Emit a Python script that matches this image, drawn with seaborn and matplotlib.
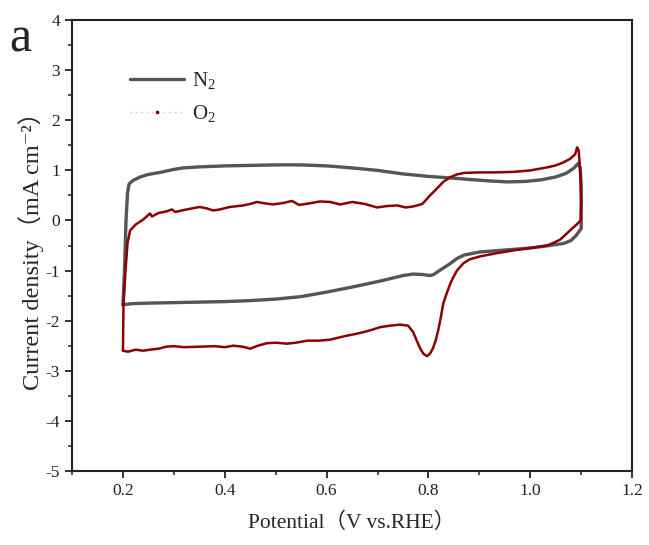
import pandas as pd
import matplotlib
matplotlib.use("Agg")
import matplotlib.pyplot as plt
from matplotlib.lines import Line2D
from matplotlib.ticker import MultipleLocator
import seaborn as sns

# -----------------------------
# CV data
# -----------------------------
n2_potential = [0.200, 0.203, 0.206, 0.209, 0.212, 0.220, 0.234, 0.250, 0.273, 0.300,
                0.318, 0.350, 0.400, 0.450, 0.500, 0.550, 0.600, 0.650, 0.700, 0.750,
                0.800, 0.843, 0.880, 0.920, 0.955, 0.990, 1.020, 1.050, 1.070, 1.085,
                1.094, 1.098, 1.100, 1.100, 1.100, 1.090, 1.080, 1.065, 1.030, 1.000,
                0.950, 0.900, 0.870, 0.856, 0.840, 0.823, 0.810, 0.803, 0.790, 0.770,
                0.750, 0.705, 0.650, 0.600, 0.550, 0.500, 0.450, 0.400, 0.350, 0.300,
                0.250, 0.220, 0.200]
n2_current = [-1.68, -1.00, 0.00, 0.55, 0.73, 0.80, 0.87, 0.92, 0.96, 1.02,
              1.05, 1.07, 1.09, 1.10, 1.11, 1.11, 1.09, 1.05, 1.00, 0.93,
              0.88, 0.85, 0.82, 0.79, 0.77, 0.78, 0.81, 0.87, 0.94, 1.04,
              1.14, 1.05, 0.70, 0.20, -0.16, -0.30, -0.40, -0.46, -0.51, -0.55,
              -0.59, -0.63, -0.69, -0.76, -0.88, -0.99, -1.08, -1.10, -1.08, -1.07,
              -1.10, -1.21, -1.33, -1.43, -1.52, -1.57, -1.60, -1.62, -1.63, -1.64,
              -1.65, -1.66, -1.68]

o2_potential = [0.200, 0.201, 0.205, 0.209, 0.214, 0.225, 0.240, 0.253, 0.257, 0.270,
                0.285, 0.296, 0.303, 0.320, 0.340, 0.351, 0.365, 0.377, 0.390, 0.410,
                0.436, 0.450, 0.463, 0.480, 0.495, 0.515, 0.532, 0.546, 0.565, 0.587,
                0.607, 0.627, 0.650, 0.675, 0.699, 0.720, 0.739, 0.755, 0.770, 0.788,
                0.803, 0.815, 0.829, 0.842, 0.856, 0.870, 0.900, 0.930, 0.966, 1.000,
                1.033, 1.050, 1.065, 1.078, 1.088, 1.092, 1.095, 1.098, 1.100, 1.099,
                1.092, 1.078, 1.059, 1.045, 1.033, 1.000, 0.966, 0.930, 0.900, 0.880,
                0.868, 0.856, 0.848, 0.843, 0.836, 0.829, 0.824, 0.819, 0.814, 0.809,
                0.803, 0.797, 0.790, 0.784, 0.777, 0.770, 0.760, 0.744, 0.725, 0.705,
                0.690, 0.672, 0.655, 0.640, 0.627, 0.607, 0.585, 0.562, 0.540, 0.522,
                0.500, 0.483, 0.465, 0.450, 0.435, 0.417, 0.400, 0.380, 0.350, 0.320,
                0.300, 0.285, 0.270, 0.253, 0.240, 0.225, 0.210, 0.200]
o2_current = [-2.60, -1.70, -1.00, -0.45, -0.20, -0.08, 0.02, 0.14, 0.08, 0.15,
              0.18, 0.22, 0.17, 0.21, 0.25, 0.27, 0.24, 0.20, 0.22, 0.27,
              0.30, 0.33, 0.37, 0.34, 0.32, 0.35, 0.39, 0.31, 0.34, 0.38,
              0.37, 0.32, 0.37, 0.33, 0.26, 0.29, 0.30, 0.26, 0.28, 0.33,
              0.50, 0.62, 0.77, 0.86, 0.92, 0.95, 0.96, 0.96, 0.97, 1.00,
              1.06, 1.10, 1.16, 1.23, 1.32, 1.46, 1.40, 1.00, 0.40, 0.00,
              -0.07, -0.20, -0.38, -0.45, -0.50, -0.55, -0.60, -0.66, -0.72, -0.78,
              -0.86, -1.00, -1.15, -1.26, -1.45, -1.66, -1.95, -2.20, -2.40, -2.55,
              -2.66, -2.71, -2.66, -2.56, -2.40, -2.23, -2.10, -2.08, -2.10, -2.13,
              -2.18, -2.23, -2.27, -2.30, -2.33, -2.38, -2.40, -2.40, -2.44, -2.46,
              -2.44, -2.45, -2.50, -2.56, -2.52, -2.50, -2.53, -2.51, -2.52, -2.53,
              -2.51, -2.52, -2.56, -2.58, -2.60, -2.58, -2.62, -2.60]

n2 = pd.DataFrame({"Potential": n2_potential, "Current": n2_current})
o2 = pd.DataFrame({"Potential": o2_potential, "Current": o2_current})

sns.set_style("ticks")
plt.rcParams["font.family"] = ["Liberation Serif", "Noto Sans CJK SC", "DejaVu Serif"]
plt.rcParams["mathtext.fontset"] = "custom"
plt.rcParams["mathtext.rm"] = "Liberation Serif"
plt.rcParams["axes.unicode_minus"] = False

fig = plt.figure(figsize=(6.49, 5.45), dpi=100)
ax = fig.add_axes([0.111, 0.136, 0.863, 0.827])

# -----------------------------
# Curves
# -----------------------------
sns.lineplot(data=n2, x="Potential", y="Current", sort=False, estimator=None,
             color="#555555", linewidth=2.4, ax=ax)
sns.lineplot(data=o2, x="Potential", y="Current", sort=False, estimator=None,
             color="#8b0000", linewidth=1.8, ax=ax)

ax.set_xlim(0.1, 1.2)
ax.set_ylim(-5, 4)
ax.xaxis.set_major_locator(MultipleLocator(0.2))
ax.xaxis.set_minor_locator(MultipleLocator(0.1))
ax.yaxis.set_major_locator(MultipleLocator(1))
ax.yaxis.set_minor_locator(MultipleLocator(0.5))
ax.set_xticks([0.2, 0.4, 0.6, 0.8, 1.0, 1.2])
ax.set_xticklabels(["0.2", "0.4", "0.6", "0.8", "1.0", "1.2"])

for s in ax.spines.values():
    s.set_linewidth(1.5)
    s.set_color("#222222")
ax.tick_params(which="major", direction="out", length=5, width=1.3, labelsize=12.5, colors="#222222")
ax.tick_params(which="minor", direction="out", length=3, width=1.1, colors="#222222")

ax.set_xlabel("Potential（V vs.RHE）", fontsize=15.5, labelpad=10)
ax.set_ylabel("Current density（mA cm⁻²）", fontsize=17.5, labelpad=1)

# -----------------------------
# Legend
# -----------------------------
handles = [
    Line2D([], [], color="#555555", linewidth=2.4),
    Line2D([], [], color="#e6b8b8", linewidth=1.0, linestyle=(0, (1, 3)),
           marker="s", markersize=2, markerfacecolor="#8b0000", markeredgecolor="#8b0000"),
]
ax.legend(handles, ["N$_2$", "O$_2$"], loc="upper left", bbox_to_anchor=(0.07, 0.93),
          frameon=False, fontsize=15, handlelength=2.6, handletextpad=0.4, labelspacing=0.55)

fig.text(0.015, 0.905, "a", fontsize=36)

plt.savefig("out.png", dpi=100)
